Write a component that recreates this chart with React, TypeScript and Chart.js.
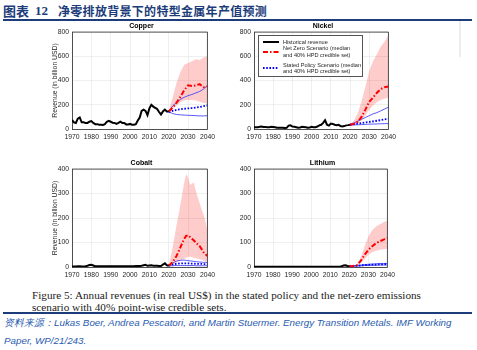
import React, { useEffect, useRef } from 'react';
import { Chart, registerables } from 'chart.js';

Chart.register(...registerables);

// ---------- data ----------
const histYears = Array.from({ length: 51 }, (_, i) => 1970 + i);
const projYears = [2020, 2022, 2024, 2026, 2028, 2030, 2032, 2034, 2036, 2038, 2040];
const cobaltYears = [2020, 2021, 2022, 2023, 2024, 2025, 2026, 2027, 2028, 2029, 2030, 2031, 2032, 2033, 2034, 2035, 2036, 2037, 2038, 2039, 2040];

const copperHist = [75, 55, 50, 85, 95, 55, 55, 50, 50, 60, 65, 50, 40, 40, 35, 35, 33, 40, 60, 68, 60, 52, 50, 42, 50, 60, 50, 50, 38, 38, 42, 36, 35, 40, 70, 95, 150, 160, 150, 115, 170, 200, 185, 175, 165, 140, 120, 145, 160, 145, 145];
const copperNzMed = [145, 175, 215, 265, 320, 360, 355, 360, 370, 345, 350];
const copperNzUp = [150, 260, 380, 470, 530, 545, 560, 575, 570, 590, 600];
const copperNzLo = [140, 165, 195, 220, 235, 240, 240, 235, 225, 215, 210];
const copperSpMed = [140, 150, 158, 163, 167, 170, 173, 177, 182, 188, 195];
const copperSpUp = [145, 190, 220, 245, 262, 275, 285, 298, 310, 330, 360];
const copperSpLo = [140, 128, 120, 117, 115, 113, 112, 110, 108, 108, 110];

const nickelHist = [15, 14, 15, 18, 20, 17, 16, 15, 14, 18, 17, 14, 10, 10, 11, 10, 8, 10, 28, 30, 20, 18, 14, 10, 13, 18, 16, 14, 10, 13, 18, 14, 15, 20, 30, 35, 50, 72, 35, 28, 45, 42, 35, 32, 34, 25, 20, 24, 30, 32, 35];
const nickelNzMed = [35, 42, 60, 100, 160, 225, 260, 300, 330, 345, 350];
const nickelNzUp = [40, 70, 130, 230, 350, 480, 560, 620, 680, 720, 780];
const nickelNzLo = [30, 35, 45, 70, 110, 160, 195, 220, 240, 250, 260];
const nickelSpMed = [35, 40, 45, 50, 55, 58, 63, 68, 73, 80, 85];
const nickelSpUp = [38, 50, 65, 80, 95, 110, 125, 135, 150, 165, 180];
const nickelSpLo = [32, 33, 35, 37, 38, 40, 41, 42, 43, 44, 45];

const cobaltHist = [2, 2, 2, 3, 3, 2, 2, 3, 5, 8, 9, 6, 3, 3, 3, 3, 3, 3, 3, 3, 3, 3, 3, 3, 3, 3, 3, 3, 3, 3, 3, 3, 3, 4, 4, 4, 5, 7, 9, 5, 6, 7, 5, 5, 5, 4, 4, 10, 15, 7, 5];
const cobaltNzMed = [5, 12, 20, 32, 45, 62, 80, 98, 115, 127, 130, 123, 115, 108, 100, 92, 85, 73, 60, 52, 45];
const cobaltNzUp = [5, 40, 80, 125, 170, 210, 255, 300, 345, 380, 365, 335, 340, 345, 310, 285, 260, 235, 215, 185, 150];
const cobaltNzLo = [3, 6, 10, 14, 18, 22, 26, 30, 34, 38, 42, 42, 40, 38, 36, 34, 32, 30, 27, 23, 20];
const cobaltSpMed = [6, 8, 10, 12, 13, 14, 15, 15, 15, 15, 15, 14, 14, 14, 13, 13, 13, 13, 12, 12, 12];
const cobaltSpUp = [8, 12, 16, 20, 24, 26, 27, 28, 28, 27, 26, 25, 24, 23, 22, 21, 20, 20, 19, 19, 18];
const cobaltSpLo = [4, 5, 5, 6, 6, 6, 6, 6, 6, 6, 6, 6, 6, 6, 5, 5, 5, 5, 5, 5, 5];

const lithiumHist = [1, 1, 1, 1, 1, 1, 1, 1, 1, 1, 1, 1, 1, 1, 1, 1, 1, 1, 1, 1, 1, 1, 1, 1, 1, 1, 1, 1, 1, 1, 1, 1, 1, 1, 1, 1, 1, 1, 1, 1, 1, 1, 1, 1, 1, 1, 3, 6, 7, 4, 3];
const lithiumNzMed = [3, 4, 7, 25, 50, 70, 85, 97, 105, 112, 118];
const lithiumNzUp = [3, 5, 10, 40, 85, 125, 150, 165, 175, 183, 190];
const lithiumNzLo = [3, 4, 6, 15, 32, 50, 60, 66, 70, 72, 75];
const lithiumSpMed = [3, 4, 5, 6, 8, 9, 10, 10, 11, 11, 12];
const lithiumSpUp = [3, 5, 7, 8, 10, 11, 12, 13, 14, 14, 15];
const lithiumSpLo = [3, 3, 4, 5, 6, 6, 7, 7, 8, 8, 8];

const legendLabels = ['Historical revenue', 'Net Zero Scenario (median', 'and 40% HPD credible set)', 'Stated Policy Scenario (median', 'and 40% HPD credible set)'];

// ---------- layout ----------
const FONT = '"Liberation Sans", Arial, Helvetica, sans-serif';
const TXT = '#262626';

type Panel = {
  name: string; years: number[]; hist: number[];
  nzMed: number[]; nzUp: number[]; nzLo: number[];
  spMed: number[]; spUp: number[]; spLo: number[];
  yMax: number; yStep: number; yTitle: boolean;
  L: number; T: number; R: number; B: number; titleY: number;
};

const panels: Panel[] = [
  { name: 'Copper', years: projYears, hist: copperHist, nzMed: copperNzMed, nzUp: copperNzUp, nzLo: copperNzLo, spMed: copperSpMed, spUp: copperSpUp, spLo: copperSpLo, yMax: 800, yStep: 200, yTitle: true, L: 72, T: 31, R: 211, B: 129, titleY: 26 },
  { name: 'Nickel', years: projYears, hist: nickelHist, nzMed: nickelNzMed, nzUp: nickelNzUp, nzLo: nickelNzLo, spMed: nickelSpMed, spUp: nickelSpUp, spLo: nickelSpLo, yMax: 800, yStep: 200, yTitle: false, L: 254, T: 31, R: 392, B: 129, titleY: 26 },
  { name: 'Cobalt', years: cobaltYears, hist: cobaltHist, nzMed: cobaltNzMed, nzUp: cobaltNzUp, nzLo: cobaltNzLo, spMed: cobaltSpMed, spUp: cobaltSpUp, spLo: cobaltSpLo, yMax: 400, yStep: 100, yTitle: true, L: 72, T: 168, R: 211, B: 267, titleY: 163 },
  { name: 'Lithium', years: projYears, hist: lithiumHist, nzMed: lithiumNzMed, nzUp: lithiumNzUp, nzLo: lithiumNzLo, spMed: lithiumSpMed, spUp: lithiumSpUp, spLo: lithiumSpLo, yMax: 400, yStep: 100, yTitle: false, L: 254, T: 168, R: 391, B: 267, titleY: 163 },
];

const AXW = 40, PADT = 6, PADR = 8, AXH = 14;

const boxPlugin = {
  id: 'boxPlugin',
  afterDatasetsDraw(chart: any) {
    const { ctx, chartArea: a } = chart;
    ctx.save();
    ctx.strokeStyle = TXT;
    ctx.lineWidth = 0.8;
    ctx.beginPath();
    ctx.moveTo(a.left, a.top);
    ctx.lineTo(a.right, a.top);
    ctx.lineTo(a.right, a.bottom);
    ctx.stroke();
    ctx.restore();
  },
};

function pts(xs: number[], ys: number[]) {
  return xs.map((x, i) => ({ x, y: ys[i] }));
}

function makeChart(canvas: HTMLCanvasElement, p: Panel) {
  const tickFont = { family: FONT, size: 6.8 };
  return new Chart(canvas, {
    type: 'line',
    data: {
      datasets: [
        { label: 'Historical revenue', data: pts(histYears, p.hist), borderColor: '#000000', borderWidth: 2 },
        { label: 'Net Zero', data: pts(p.years, p.nzMed), borderColor: '#ff0000', borderWidth: 2, borderDash: [5, 2, 1.5, 2] },
        { label: 'Stated Policy', data: pts(p.years, p.spMed), borderColor: '#0000ff', borderWidth: 1.8, borderDash: [1.6, 1.6] },
        { label: 'SP upper', data: pts(p.years, p.spUp), borderColor: '#3030ff', borderWidth: 0.8 },
        { label: 'SP lower', data: pts(p.years, p.spLo), borderColor: '#3030ff', borderWidth: 0.8 },
        { label: 'NZ upper', data: pts(p.years, p.nzUp), borderColor: 'rgba(0,0,0,0)', borderWidth: 0, backgroundColor: 'rgba(255,0,0,0.2)', fill: '+1' },
        { label: 'NZ lower', data: pts(p.years, p.nzLo), borderColor: 'rgba(0,0,0,0)', borderWidth: 0, fill: false },
      ],
    } as any,
    options: {
      animation: false,
      responsive: false,
      maintainAspectRatio: false,
      elements: { point: { radius: 0 }, line: { tension: 0 } },
      layout: { padding: { top: PADT, right: PADR, left: 0, bottom: 0 } },
      plugins: { legend: { display: false }, tooltip: { enabled: false }, title: { display: false } },
      scales: {
        x: {
          type: 'linear', min: 1970, max: 2040,
          ticks: { stepSize: 10, font: tickFont, color: TXT, padding: 4, maxRotation: 0, callback: (v: any) => String(v) },
          grid: { color: '#e4e4e4', lineWidth: 0.6, drawTicks: false },
          border: { color: TXT, width: 0.8 },
          afterFit: (s: any) => { s.height = AXH; },
        },
        y: {
          type: 'linear', min: 0, max: p.yMax,
          ticks: { stepSize: p.yStep, font: tickFont, color: TXT, padding: 3 },
          grid: { color: '#e4e4e4', lineWidth: 0.6, drawTicks: false },
          border: { color: TXT, width: 0.8 },
          title: { display: p.yTitle, text: 'Revenue (in billion USD)', font: { family: FONT, size: 6.8 }, color: TXT, padding: { top: 19, bottom: 0 } },
          afterFit: (s: any) => { s.width = AXW; },
        },
      },
    } as any,
    plugins: [boxPlugin],
  });
}

function PanelCanvas({ p }: { p: Panel }) {
  const ref = useRef<HTMLCanvasElement>(null);
  useEffect(() => {
    const c = makeChart(ref.current!, p);
    return () => c.destroy();
  }, [p]);
  const w = p.R - p.L + AXW + PADR;
  const h = p.B - p.T + PADT + AXH;
  return (
    <canvas
      ref={ref}
      width={w}
      height={h}
      style={{ position: 'absolute', left: p.L - AXW, top: p.T - PADT, width: w, height: h }}
    />
  );
}

function LineSample({ color, dash, width }: { color: string; dash?: string; width: number }) {
  return (
    <svg width={16} height={4} style={{ position: 'absolute', left: 4 }}>
      <line x1={0} y1={2} x2={16} y2={2} stroke={color} strokeWidth={width} strokeDasharray={dash} />
    </svg>
  );
}

export default function App() {
  useEffect(() => {
    document.body.style.margin = '0';
  }, []);
  const navy = '#1c3d7a';
  const legendText: React.CSSProperties = { position: 'absolute', left: 24, fontSize: 5.6, fontFamily: FONT, color: TXT, whiteSpace: 'nowrap', lineHeight: '6px' };
  return (
    <div style={{ position: 'relative', width: 477, height: 350, background: '#fff', overflow: 'hidden' }}>
      {/* header */}
      <div style={{ position: 'absolute', left: 3, top: 3, fontFamily: '"Noto Sans CJK SC", sans-serif', fontWeight: 700, fontSize: 13, color: navy, lineHeight: '16px', whiteSpace: 'nowrap' }}>图表</div>
      <div style={{ position: 'absolute', left: 35, top: 3, fontFamily: '"Liberation Serif", serif', fontWeight: 700, fontSize: 13, color: navy, lineHeight: '16px' }}>12</div>
      <div style={{ position: 'absolute', left: 58, top: 3, fontFamily: '"Noto Sans CJK SC", sans-serif', fontWeight: 700, fontSize: 12, letterSpacing: 0.3, color: navy, lineHeight: '16px', whiteSpace: 'nowrap' }}>净零排放背景下的特型金属年产值预测</div>
      <div style={{ position: 'absolute', left: 3, top: 19, width: 469, height: 2, background: navy }} />
      <div style={{ position: 'absolute', left: 459, top: 21, width: 2, height: 36, background: '#ececec' }} />

      {panels.map((p) => <PanelCanvas key={p.name} p={p} />)}

      {panels.map((p) => (
        <div key={p.name + 't'} style={{ position: 'absolute', left: (p.L + p.R) / 2 - 40, width: 80, top: p.titleY - 5, textAlign: 'center', fontFamily: FONT, fontWeight: 700, fontSize: 7, lineHeight: '10px', color: '#000' }}>{p.name}</div>
      ))}

      {/* legend in nickel panel */}
      <div style={{ position: 'absolute', left: 258, top: 35, width: 105, height: 42, background: '#fff', border: '0.6px solid #555', boxSizing: 'border-box' }}>
        <div style={{ position: 'absolute', top: 3.5, left: 0 }}><LineSample color="#000" width={2} /></div>
        <div style={{ ...legendText, top: 2.5 }}>{legendLabels[0]}</div>
        <div style={{ position: 'absolute', top: 14, left: 0 }}><LineSample color="#ff0000" width={2} dash="5 2 1.5 2" /></div>
        <div style={{ ...legendText, top: 9 }}>{legendLabels[1]}</div>
        <div style={{ ...legendText, top: 15.5 }}>{legendLabels[2]}</div>
        <div style={{ position: 'absolute', top: 30, left: 0 }}><LineSample color="#0000ff" width={1.8} dash="1.6 1.6" /></div>
        <div style={{ ...legendText, top: 25.5 }}>{legendLabels[3]}</div>
        <div style={{ ...legendText, top: 32 }}>{legendLabels[4]}</div>
      </div>

      {/* caption */}
      <div style={{ position: 'absolute', left: 32, top: 289, fontFamily: '"Liberation Serif", serif', fontSize: 11.2, lineHeight: '12px', color: '#222', whiteSpace: 'nowrap' }}>
        Figure 5: Annual revenues (in real US$) in the stated policy and the net-zero emissions<br />
        scenario with 40% point-wise credible sets.
      </div>
      <div style={{ position: 'absolute', left: 3, top: 312, width: 469, height: 2, background: navy }} />
      <div style={{ position: 'absolute', left: 4, top: 314, fontFamily: '"Liberation Sans", Arial, sans-serif', fontStyle: 'italic', fontSize: 9.8, lineHeight: '18px', color: '#2a5cb0', whiteSpace: 'nowrap' }}>
        资料来源：Lukas Boer, Andrea Pescatori, and Martin Stuermer. Energy Transition Metals. IMF Working<br />
        Paper, WP/21/243.
      </div>
    </div>
  );
}
